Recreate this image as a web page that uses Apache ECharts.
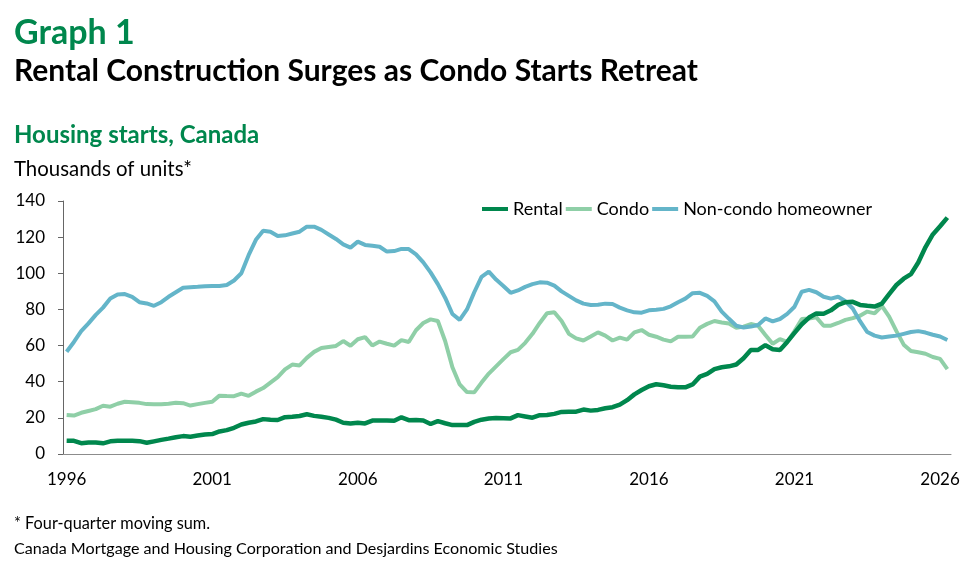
<!DOCTYPE html>
<html>
<head>
<meta charset="utf-8">
<title>Housing starts, Canada</title>
<script src="https://cdn.jsdelivr.net/npm/echarts@6/dist/echarts.min.js"></script>
<style>
html, body { margin: 0; padding: 0; background: #fff; }
#chart { width: 980px; height: 574px; }
</style>
</head>
<body>
<div id="chart"></div>
<script>
// quarterly, 1996Q1 .. 2026Q2, thousands of units (four-quarter moving sum)
var rental = [
	7.4, 7.3, 6.0, 6.3, 6.4, 5.9, 7.0, 7.3, 7.4, 7.3, 7.1, 6.2, 7.0, 7.8, 8.5, 9.3,
	9.9, 9.6, 10.2, 10.8, 11.0, 12.5, 13.2, 14.5, 16.3, 17.3, 18.0, 19.3, 19.0, 18.8,
	20.4, 20.6, 21.0, 22.0, 21.1, 20.6, 20.0, 19.0, 17.3, 16.9, 17.3, 16.9, 18.5, 18.5,
	18.5, 18.4, 20.3, 18.7, 18.8, 18.5, 16.6, 18.2, 17.0, 16.0, 16.0, 16.0, 17.8, 19.0,
	19.6, 19.9, 19.8, 19.7, 21.5, 20.8, 20.1, 21.5, 21.6, 22.2, 23.3, 23.4, 23.4, 24.6,
	24.0, 24.4, 25.3, 25.9, 27.3, 29.8, 33.0, 35.4, 37.5, 38.6, 38.0, 37.2, 36.9, 36.9,
	38.5, 42.8, 44.3, 47.0, 48.0, 48.5, 49.5, 53.0, 57.5, 57.6, 60.2, 58.0, 57.6, 62.0,
	67.0, 71.8, 75.5, 77.8, 77.6, 79.5, 82.5, 84.0, 84.2, 82.5, 82.0, 81.6, 83.2, 88.5,
	93.5, 97.0, 99.5, 106.0, 114.5, 121.5, 126.0, 130.8
];
var condo = [
	21.6, 21.3, 22.8, 23.8, 24.8, 26.7, 26.2, 27.8, 28.9, 28.7, 28.3, 27.6, 27.5, 27.5,
	27.8, 28.3, 28.1, 26.8, 27.6, 28.3, 28.9, 32.3, 32.1, 32.0, 33.4, 32.2, 34.5, 36.5,
	39.5, 42.5, 46.8, 49.5, 49.0, 53.2, 56.5, 58.6, 59.2, 59.8, 62.5, 59.9, 63.5, 64.7,
	60.0, 62.2, 61.0, 60.0, 63.0, 62.0, 68.5, 72.5, 74.5, 73.6, 62.5, 48.0, 38.5, 34.3,
	34.1, 39.5, 44.5, 48.5, 52.5, 56.3, 57.6, 61.5, 66.5, 72.5, 77.9, 78.4, 73.6, 66.5,
	64.0, 62.8, 65.0, 67.3, 65.5, 62.8, 64.4, 63.3, 67.3, 68.6, 66.0, 64.9, 63.3, 62.3,
	64.9, 64.9, 65.0, 69.9, 72.0, 73.6, 72.8, 72.2, 69.8, 70.5, 71.9, 71.0, 65.9, 61.0,
	63.6, 62.1, 68.0, 74.7, 75.0, 75.6, 71.0, 71.0, 72.5, 74.2, 75.2, 76.5, 78.8, 77.8,
	81.9, 76.0, 68.0, 60.5, 57.0, 56.3, 55.5, 53.7, 52.6, 47.0
];
var nonCondo = [
	56.6, 62.0, 68.0, 72.3, 77.0, 81.0, 86.0, 88.3, 88.5, 87.0, 84.0, 83.3, 82.0, 84.0,
	87.0, 89.5, 92.0, 92.3, 92.5, 92.8, 93.0, 93.0, 93.5, 96.0, 100.0, 110.0, 118.5, 123.5,
	123.0, 120.6, 121.0, 122.0, 123.0, 125.8, 125.8, 124.0, 121.5, 119.0, 116.0, 114.2,
	117.5, 115.7, 115.2, 114.7, 112.0, 112.3, 113.5, 113.4, 110.5, 106.0, 100.5, 94.0,
	86.5, 77.5, 74.2, 80.0, 89.5, 98.0, 100.9, 96.5, 93.0, 89.2, 90.5, 92.5, 94.0, 95.0,
	94.8, 93.2, 90.0, 87.5, 85.0, 83.2, 82.5, 82.6, 83.2, 83.0, 81.0, 79.5, 78.4, 78.2,
	79.5, 79.8, 80.3, 81.7, 84.0, 86.0, 89.0, 89.2, 87.5, 84.5, 78.8, 74.8, 71.0, 70.0,
	70.5, 71.4, 75.0, 73.4, 74.7, 77.5, 81.5, 89.8, 90.8, 89.5, 87.0, 86.0, 87.0, 84.5,
	80.5, 73.5, 67.5, 65.5, 64.5, 65.0, 65.5, 66.5, 67.5, 68.0, 67.2, 66.0, 65.0, 63.1
];
var startYear = 1996;
var yTicks = [0, 20, 40, 60, 80, 100, 120, 140];

// quarter labels, one per data point
var quarters = [];
for (var i = 0; i < rental.length; i++) {
	quarters.push((startYear + Math.floor(i / 4)) + 'Q' + (i % 4 + 1));
}

var green = '#00874d';
var font = 'Lato, "Open Sans", sans-serif';

var myChart = echarts.init(document.getElementById('chart'));
var option = {
	animation: false,
	backgroundColor: '#fff',
	textStyle: { fontFamily: font },
	graphic: [
		{ type: 'text', x: 14, y: 33, style: { text: 'Graph 1', fill: green, font: 'bold 34px ' + font, textVerticalAlign: 'middle' } },
		{ type: 'text', x: 14, y: 71, style: { text: 'Rental Construction Surges as Condo Starts Retreat', fill: '#000', font: 'bold 30px ' + font, textVerticalAlign: 'middle' } },
		{ type: 'text', x: 14, y: 135, style: { text: 'Housing starts, Canada', fill: green, font: 'bold 24px ' + font, textVerticalAlign: 'middle' } },
		{ type: 'text', x: 14, y: 169, style: { text: 'Thousands of units*', fill: '#000', font: '20.4px ' + font, textVerticalAlign: 'middle' } },
		{ type: 'text', x: 14, y: 524, style: { text: '* Four-quarter moving sum.', fill: '#000', font: '16.3px ' + font, textVerticalAlign: 'middle' } },
		{ type: 'text', x: 14, y: 549, style: { text: 'Canada Mortgage and Housing Corporation and Desjardins Economic Studies', fill: '#000', font: '16.1px ' + font, textVerticalAlign: 'middle' } }
	],
	legend: {
		right: 103,
		top: 195,
		icon: 'rect',
		itemWidth: 26,
		itemHeight: 4,
		itemGap: 3,
		textStyle: { fontSize: 18, color: '#000', fontFamily: font },
		data: ['Rental', 'Condo', 'Non-condo homeowner']
	},
	grid: {
		left: 63,
		right: 29,
		top: 201,
		bottom: 120,
		containLabel: false
	},
	xAxis: {
		type: 'category',
		boundaryGap: true,
		data: quarters,
		axisLine: { lineStyle: { color: '#8c8c8c', width: 1 } },
		axisTick: { show: false },
		axisLabel: {
			margin: 17,
			fontSize: 17,
			color: '#000',
			interval: function (index) { return index % 20 === 0; },
			formatter: function (value) { return value.slice(0, 4); }
		},
		splitLine: { show: false }
	},
	yAxis: {
		type: 'value',
		min: yTicks[0],
		max: yTicks[yTicks.length - 1],
		interval: yTicks[1] - yTicks[0],
		axisLine: { show: true, lineStyle: { color: '#666', width: 1 } },
		axisTick: { show: true, length: 5, lineStyle: { color: '#666' } },
		axisLabel: { margin: 18, fontSize: 17, color: '#000' },
		splitLine: { show: false }
	},
	series: [
		{
			name: 'Rental',
			type: 'line',
			data: rental,
			symbol: 'none',
			z: 4,
			lineStyle: { color: green, width: 4.5 },
			itemStyle: { color: green }
		},
		{
			name: 'Condo',
			type: 'line',
			data: condo,
			symbol: 'none',
			z: 2,
			lineStyle: { color: '#8fcfa7', width: 4 },
			itemStyle: { color: '#8fcfa7' }
		},
		{
			name: 'Non-condo homeowner',
			type: 'line',
			data: nonCondo,
			symbol: 'none',
			z: 3,
			lineStyle: { color: '#64b5c9', width: 4 },
			itemStyle: { color: '#64b5c9' }
		}
	]
};
myChart.setOption(option);
</script>
</body>
</html>
